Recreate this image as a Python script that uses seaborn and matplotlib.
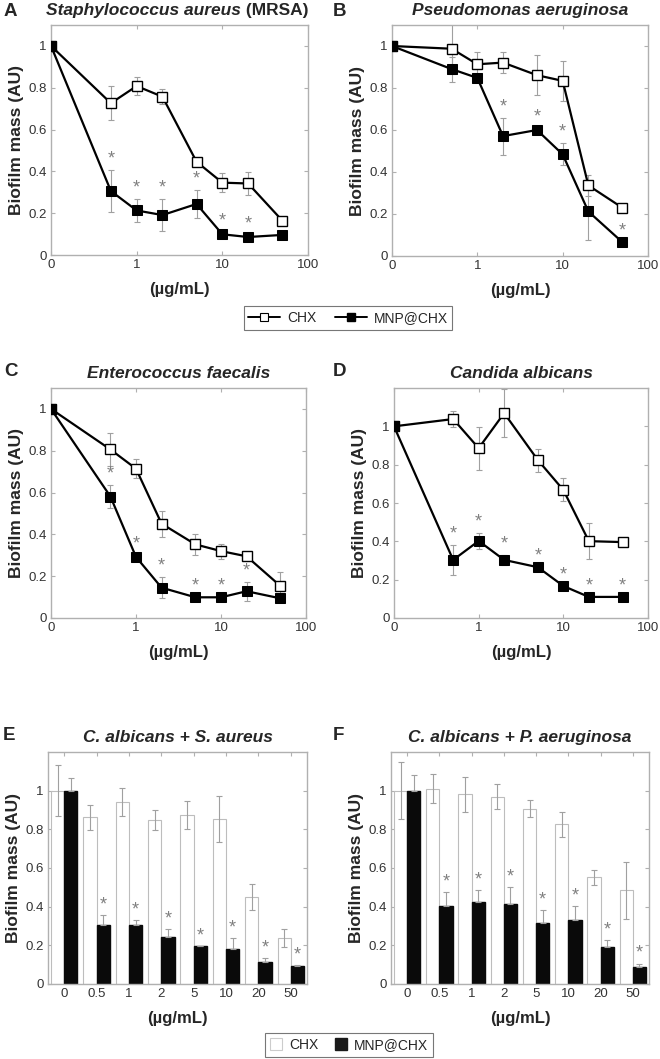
import numpy as np
import pandas as pd
import matplotlib
matplotlib.use("Agg")
import matplotlib.pyplot as plt
from matplotlib.lines import Line2D
from matplotlib.patches import Patch
import seaborn as sns

sns.set_style("ticks")
plt.rcParams['font.family'] = ['Liberation Sans', 'DejaVu Sans']

# concentrations (ug/mL); 0 is drawn at 0.1 on the log axis
conc = [0, 0.5, 1, 2, 5, 10, 20, 50]
conc_labels = ["0", "0.5", "1", "2", "5", "10", "20", "50"]

# panel A - S. aureus (MRSA)
a_chx = [1.0, 0.726, 0.808, 0.757, 0.446, 0.346, 0.342, 0.165]
a_chx_err = [0, 0.08, 0.045, 0.035, 0.01, 0.045, 0.055, 0.0]
a_mnp = [1.0, 0.306, 0.213, 0.191, 0.244, 0.099, 0.086, 0.096]
a_mnp_err = [0, 0.10, 0.055, 0.075, 0.068, 0.01, 0.01, 0.0]
a_star = [0, 1, 1, 1, 1, 1, 1, 0]

# panel B - P. aeruginosa
b_chx = [1.0, 0.987, 0.913, 0.921, 0.861, 0.834, 0.336, 0.23]
b_chx_err = [0, 0.12, 0.058, 0.05, 0.094, 0.096, 0.05, 0.0]
b_mnp = [1.0, 0.89, 0.848, 0.571, 0.600, 0.484, 0.212, 0.066]
b_mnp_err = [0, 0.06, 0.0, 0.088, 0.01, 0.052, 0.137, 0.0]
b_star = [0, 0, 0, 1, 1, 1, 0, 1]

# panel C - E. faecalis
c_chx = [1.0, 0.806, 0.714, 0.451, 0.352, 0.320, 0.295, 0.153]
c_chx_err = [0, 0.08, 0.045, 0.062, 0.052, 0.036, 0.01, 0.068]
c_mnp = [1.0, 0.581, 0.292, 0.145, 0.099, 0.099, 0.128, 0.094]
c_mnp_err = [0, 0.056, 0.01, 0.05, 0.0, 0.0, 0.045, 0.0]
c_star = [0, 1, 1, 1, 1, 1, 1, 0]

# panel D - C. albicans
d_chx = [1.0, 1.038, 0.886, 1.069, 0.824, 0.668, 0.401, 0.396]
d_chx_err = [0, 0.044, 0.113, 0.125, 0.06, 0.06, 0.093, 0.02]
d_mnp = [1.0, 0.303, 0.402, 0.303, 0.265, 0.167, 0.110, 0.110]
d_mnp_err = [0, 0.077, 0.044, 0.025, 0.0, 0.0, 0.0, 0.0]
d_star = [0, 1, 1, 1, 1, 1, 1, 1]

# panel E - C. albicans + S. aureus
e_chx = [1.0, 0.862, 0.940, 0.849, 0.874, 0.852, 0.449, 0.238]
e_chx_err = [0.133, 0.064, 0.072, 0.05, 0.072, 0.12, 0.067, 0.046]
e_mnp = [1.0, 0.306, 0.303, 0.243, 0.195, 0.182, 0.112, 0.091]
e_mnp_err = [0.067, 0.052, 0.026, 0.041, 0.003, 0.055, 0.022, 0.006]

# panel F - C. albicans + P. aeruginosa
f_chx = [1.0, 1.009, 0.981, 0.969, 0.907, 0.827, 0.552, 0.484]
f_chx_err = [0.146, 0.075, 0.091, 0.064, 0.043, 0.065, 0.04, 0.146]
f_mnp = [1.0, 0.401, 0.424, 0.415, 0.316, 0.331, 0.192, 0.086]
f_mnp_err = [0.081, 0.077, 0.063, 0.088, 0.069, 0.074, 0.034, 0.02]

W, H = 660, 1059
fig = plt.figure(figsize=(W / 100, H / 100), dpi=100)


def add_ax(x0, x1, y0, y1):
    return fig.add_axes([x0 / W, 1 - y1 / H, (x1 - x0) / W, (y1 - y0) / H])


FRAME = "#b0b0b0"
ERR = "#a0a0a0"
STAR = "#808080"


def style_axes(ax, ymax):
    for s in ax.spines.values():
        s.set_color(FRAME)
        s.set_linewidth(1.0)
    ax.set_ylim(0, ymax)
    ax.set_yticks([0, 0.2, 0.4, 0.6, 0.8, 1.0])
    ax.set_yticklabels(["0", "0.2", "0.4", "0.6", "0.8", "1"])
    ax.tick_params(axis="both", which="major", direction="in", length=3, width=0.8,
                   color=FRAME, labelsize=9.5, labelcolor="#333333",
                   top=True, right=True, pad=3)
    ax.minorticks_off()
    ax.set_ylabel("Biofilm mass (AU)", fontsize=12.5, fontweight="bold", labelpad=3)
    ax.set_xlabel("(\u00b5g/mL)", fontsize=12, fontweight="bold", labelpad=8)


def line_panel(ax, chx, chx_err, mnp, mnp_err, star, ymax):
    xpos = [c if c > 0 else 0.1 for c in conc]
    df = pd.DataFrame({"x": xpos * 2, "y": chx + mnp,
                       "agent": ["CHX"] * 8 + ["MNP@CHX"] * 8})
    ax.errorbar(xpos, chx, yerr=chx_err, fmt="none", ecolor=ERR, elinewidth=0.8,
                capsize=2.5, capthick=0.8, zorder=1)
    ax.errorbar(xpos, mnp, yerr=mnp_err, fmt="none", ecolor=ERR, elinewidth=0.8,
                capsize=2.5, capthick=0.8, zorder=1)
    sns.lineplot(data=df[df.agent == "CHX"], x="x", y="y", ax=ax, color="black",
                 lw=1.6, marker="s", markersize=7, markerfacecolor="white",
                 markeredgecolor="black", markeredgewidth=1.0, zorder=3)
    sns.lineplot(data=df[df.agent == "MNP@CHX"], x="x", y="y", ax=ax, color="black",
                 lw=1.6, marker="s", markersize=7, markerfacecolor="black",
                 markeredgecolor="black", zorder=4)
    for x, v, e, s in zip(xpos, mnp, mnp_err, star):
        if s:
            ax.text(x, v + e + 0.012, "*", ha="center", va="bottom",
                    fontsize=13, color=STAR)
    ax.set_xscale("log")
    ax.set_xlim(0.1, 100)
    ax.set_xticks([0.1, 1, 10, 100])
    ax.set_xticklabels(["0", "1", "10", "100"])
    style_axes(ax, ymax)


def bar_panel(ax, chx, chx_err, mnp, mnp_err):
    df = pd.DataFrame({"conc": conc_labels * 2, "y": chx + mnp,
                       "agent": ["CHX"] * 8 + ["MNP@CHX"] * 8})
    sns.barplot(data=df, x="conc", y="y", hue="agent", ax=ax, order=conc_labels,
                palette={"CHX": "white", "MNP@CHX": "#0a0a0a"}, errorbar=None,
                width=0.82, legend=False, saturation=1)
    for bar in ax.containers[0]:
        bar.set_edgecolor("#bdbdbd")
        bar.set_linewidth(0.8)
    for bar in ax.containers[1]:
        bar.set_edgecolor("#0a0a0a")
    cx = [b.get_x() + b.get_width() / 2 for b in ax.containers[0]]
    mx = [b.get_x() + b.get_width() / 2 for b in ax.containers[1]]
    ax.errorbar(cx, chx, yerr=chx_err, fmt="none", ecolor=ERR, elinewidth=0.8,
                capsize=2.5, capthick=0.8, zorder=3)
    ax.errorbar(mx, mnp, yerr=[[0] * 8, mnp_err], fmt="none", ecolor=ERR,
                elinewidth=0.8, capsize=2.5, capthick=0.8, zorder=3)
    for i, (x, v, e) in enumerate(zip(mx, mnp, mnp_err)):
        if i > 0:
            ax.text(x, v + e + 0.008, "*", ha="center", va="bottom",
                    fontsize=13, color=STAR)
    ax.set_xlim(-0.5, 7.5)
    style_axes(ax, 1.2)


axA = add_ax(51, 308, 25, 255)
axB = add_ax(392, 648, 25, 256)
axC = add_ax(51, 306, 388, 618)
axD = add_ax(394, 648, 388, 618)
axE = add_ax(48, 307, 752, 984)
axF = add_ax(391, 649, 752, 984)

line_panel(axA, a_chx, a_chx_err, a_mnp, a_mnp_err, a_star, 1.1)
line_panel(axB, b_chx, b_chx_err, b_mnp, b_mnp_err, b_star, 1.1)
line_panel(axC, c_chx, c_chx_err, c_mnp, c_mnp_err, c_star, 1.1)
line_panel(axD, d_chx, d_chx_err, d_mnp, d_mnp_err, d_star, 1.2)
bar_panel(axE, e_chx, e_chx_err, e_mnp, e_mnp_err)
bar_panel(axF, f_chx, f_chx_err, f_mnp, f_mnp_err)

# titles
tfs = 12.5
t1 = axA.text(0.74, 1.03, "Staphylococcus aureus", transform=axA.transAxes,
              ha="right", va="bottom", fontsize=tfs, fontweight="bold", style="italic")
axA.annotate(" (MRSA)", xy=(1, 0), xycoords=t1, ha="left", va="bottom",
             fontsize=tfs, fontweight="bold")
for ax, t in [(axB, "Pseudomonas aeruginosa"), (axC, "Enterococcus faecalis"),
              (axD, "Candida albicans"), (axE, "C. albicans + S. aureus"),
              (axF, "C. albicans + P. aeruginosa")]:
    ax.text(0.5, 1.03, t, transform=ax.transAxes, ha="center", va="bottom",
            fontsize=tfs, fontweight="bold", style="italic")

# panel letters
for lab, x, y in [("A", 4, 12), ("B", 333, 12), ("C", 4, 372), ("D", 333, 372),
                  ("E", 3, 735), ("F", 333, 735)]:
    fig.text(x / W, 1 - y / H, lab, ha="left", va="center", fontsize=13.5,
             fontweight="bold")

# legends
line_handles = [
    Line2D([], [], color="black", lw=1.4, marker="s", markersize=6,
           markerfacecolor="white", markeredgecolor="black", markeredgewidth=0.8),
    Line2D([], [], color="black", lw=1.4, marker="s", markersize=6,
           markerfacecolor="black"),
]
leg1 = fig.legend(line_handles, ["CHX", "MNP@CHX"], loc="center",
                  bbox_to_anchor=(348 / W, 1 - 318 / H), ncol=2, fontsize=10,
                  frameon=True, fancybox=False, edgecolor="#555555",
                  handlelength=2.3, columnspacing=1.3, handletextpad=0.5,
                  borderpad=0.35)
leg1.get_frame().set_linewidth(0.8)

bar_handles = [Patch(facecolor="white", edgecolor="#cccccc", lw=0.8),
               Patch(facecolor="#1a1a1a", edgecolor="#1a1a1a")]
leg2 = fig.legend(bar_handles, ["CHX", "MNP@CHX"], loc="center",
                  bbox_to_anchor=(349 / W, 1 - 1045 / H), ncol=2, fontsize=10,
                  frameon=True, fancybox=False, edgecolor="#555555",
                  handlelength=0.9, handleheight=0.9, columnspacing=1.2,
                  handletextpad=0.5, borderpad=0.35)
leg2.get_frame().set_linewidth(0.8)

fig.savefig("out.png", dpi=100, facecolor="white")
